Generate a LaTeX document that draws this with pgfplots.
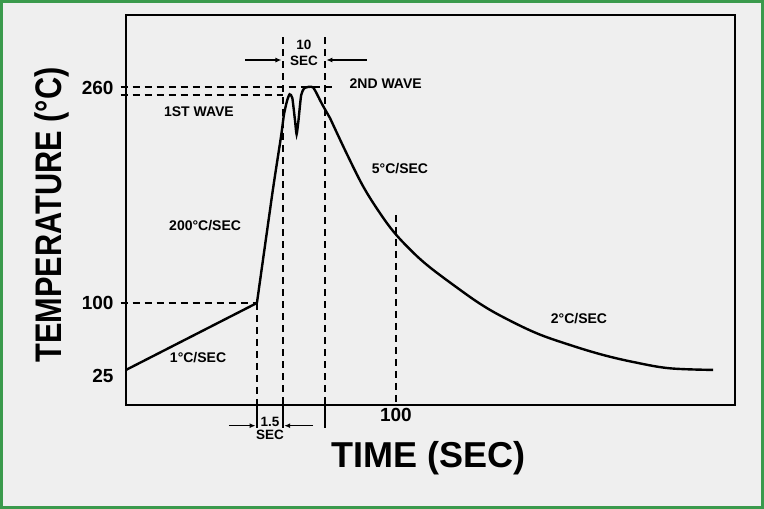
\documentclass[border=0pt]{standalone}
\usepackage{fontspec}
\setmainfont{Liberation Sans}
\usepackage{pgfplots}
\pgfplotsset{compat=1.18}
\usetikzlibrary{arrows.meta}
\definecolor{bgray}{HTML}{EFEFEF}
\definecolor{fgreen}{HTML}{3A9A4C}
\tikzset{
  lbl/.style={font=\bfseries\fontsize{14bp}{14bp}\selectfont, inner sep=0pt},
  sml/.style={font=\bfseries\fontsize{13.5bp}{13.5bp}\selectfont, inner sep=0pt},
  guide/.style={black, line width=1.8bp, dash pattern=on 7bp off 5bp},
  dim/.style={black, line width=1.3bp, -{Latex[length=6bp,width=5bp]}},
}

\begin{document}
\begin{tikzpicture}
\path[use as bounding box] (0bp,0bp) rectangle (764bp,509bp);
\fill[bgray] (0bp,0bp) rectangle (764bp,509bp);
\draw[fgreen, line width=3bp] (1.5bp,1.5bp) rectangle (762.5bp,507.5bp);
\begin{axis}[
    at={(126bp,104bp)}, anchor=south west,
    scale only axis, width=609bp, height=390bp,
    xmin=0, xmax=225.6, ymin=24.1, ymax=314.3,
    axis line style={line width=1.8bp},
    xtick={100}, xticklabels={100},
    ytick={45.7,100,260}, yticklabels={25,100,260},
    major tick length=0pt,
    tick label style={font=\bfseries\fontsize{19bp}{19bp}\selectfont},
    yticklabel style={xshift=-9bp},
    clip=false,
]

% solder curve: preheat ramp
\addplot[black, line width=2.4bp] coordinates {
    (0,50.2) (48.5,100)
};
% rise, 1st wave, 2nd wave
\addplot[black, line width=2.4bp, smooth, tension=0.35] coordinates {
    (48.5,100) (54.4,184.1) (57.4,223.5) (58.5,240) (59.6,250)
    (60.6,255.3) (61.6,252.6) (62.6,236) (63.2,225.5) (63.9,236)
    (64.9,254.8) (66.2,260) (69.3,260.4) (72.6,248.1) (75.6,237.5)
};
% cooling
\addplot[black, line width=2.4bp, smooth, tension=0.6] coordinates {
    (75.6,237.5) (81.7,211.4) (87.9,186.6) (94.1,166.8) (99.6,151.9)
    (106.4,137.5) (112.6,126.5) (121.9,112.5) (131.1,99.5) (139.7,89.5)
    (152.1,77.5) (164.4,68.8) (176.8,61.3) (189.1,55.6) (201.5,51.4)
    (217.5,50.2)
};

% dashed guide lines
\addplot[guide] coordinates {(-2,260.8) (77.4,260.8)};
\addplot[guide] coordinates {(-2,254.6) (58.1,254.6)};
\addplot[guide] coordinates {(-2,100) (48.5,100)};
\addplot[guide] coordinates {(48.5,100) (48.5,24.1)};
\addplot[guide] coordinates {(58.1,297.9) (58.1,24.1)};
\addplot[guide] coordinates {(73.7,297.9) (73.7,24.1)};
\addplot[guide] coordinates {(100,165.5) (100,24.1)};
% solid stubs below the axis
\addplot[black, line width=1.8bp] coordinates {(48.5,24.1) (48.5,7)};
\addplot[black, line width=1.8bp] coordinates {(58.1,24.1) (58.1,7)};
\addplot[black, line width=1.8bp] coordinates {(73.7,24.1) (73.7,7)};

% dimension arrows
\addplot[dim] coordinates {(44.1,280.8) (57.6,280.8)};
\addplot[dim] coordinates {(89.1,280.8) (74.2,280.8)};
\addplot[dim] coordinates {(38.1,8.7) (48,8.7)};
\addplot[dim] coordinates {(69.3,8.7) (58.6,8.7)};

% annotations
\node[sml] at (axis cs:65.9,292) {10};
\node[sml] at (axis cs:65.9,280.5) {SEC};
\node[sml] at (axis cs:53.3,11.7) {1.5};
\node[sml] at (axis cs:53.3,1.8) {SEC};
\node[lbl] at (axis cs:96.2,263.5) {2ND WAVE};
\node[lbl] at (axis cs:27,242.1) {1ST WAVE};
\node[lbl] at (axis cs:29.3,157.3) {200°C/SEC};
\node[lbl] at (axis cs:26.7,59.1) {1°C/SEC};
\node[lbl] at (axis cs:101.5,199.7) {5°C/SEC};
\node[lbl] at (axis cs:167.8,88.1) {2°C/SEC};

% axis titles
\node[font=\bfseries\fontsize{36bp}{36bp}\selectfont] at (axis cs:111.9,-15.3) {TIME (SEC)};
\node[rotate=90, font=\bfseries\fontsize{37bp}{37bp}\selectfont] at (axis cs:-27.4,165.5)
    {\scalebox{0.83}[1]{TEMPERATURE (°C)}};
\end{axis}
\end{tikzpicture}
\end{document}
